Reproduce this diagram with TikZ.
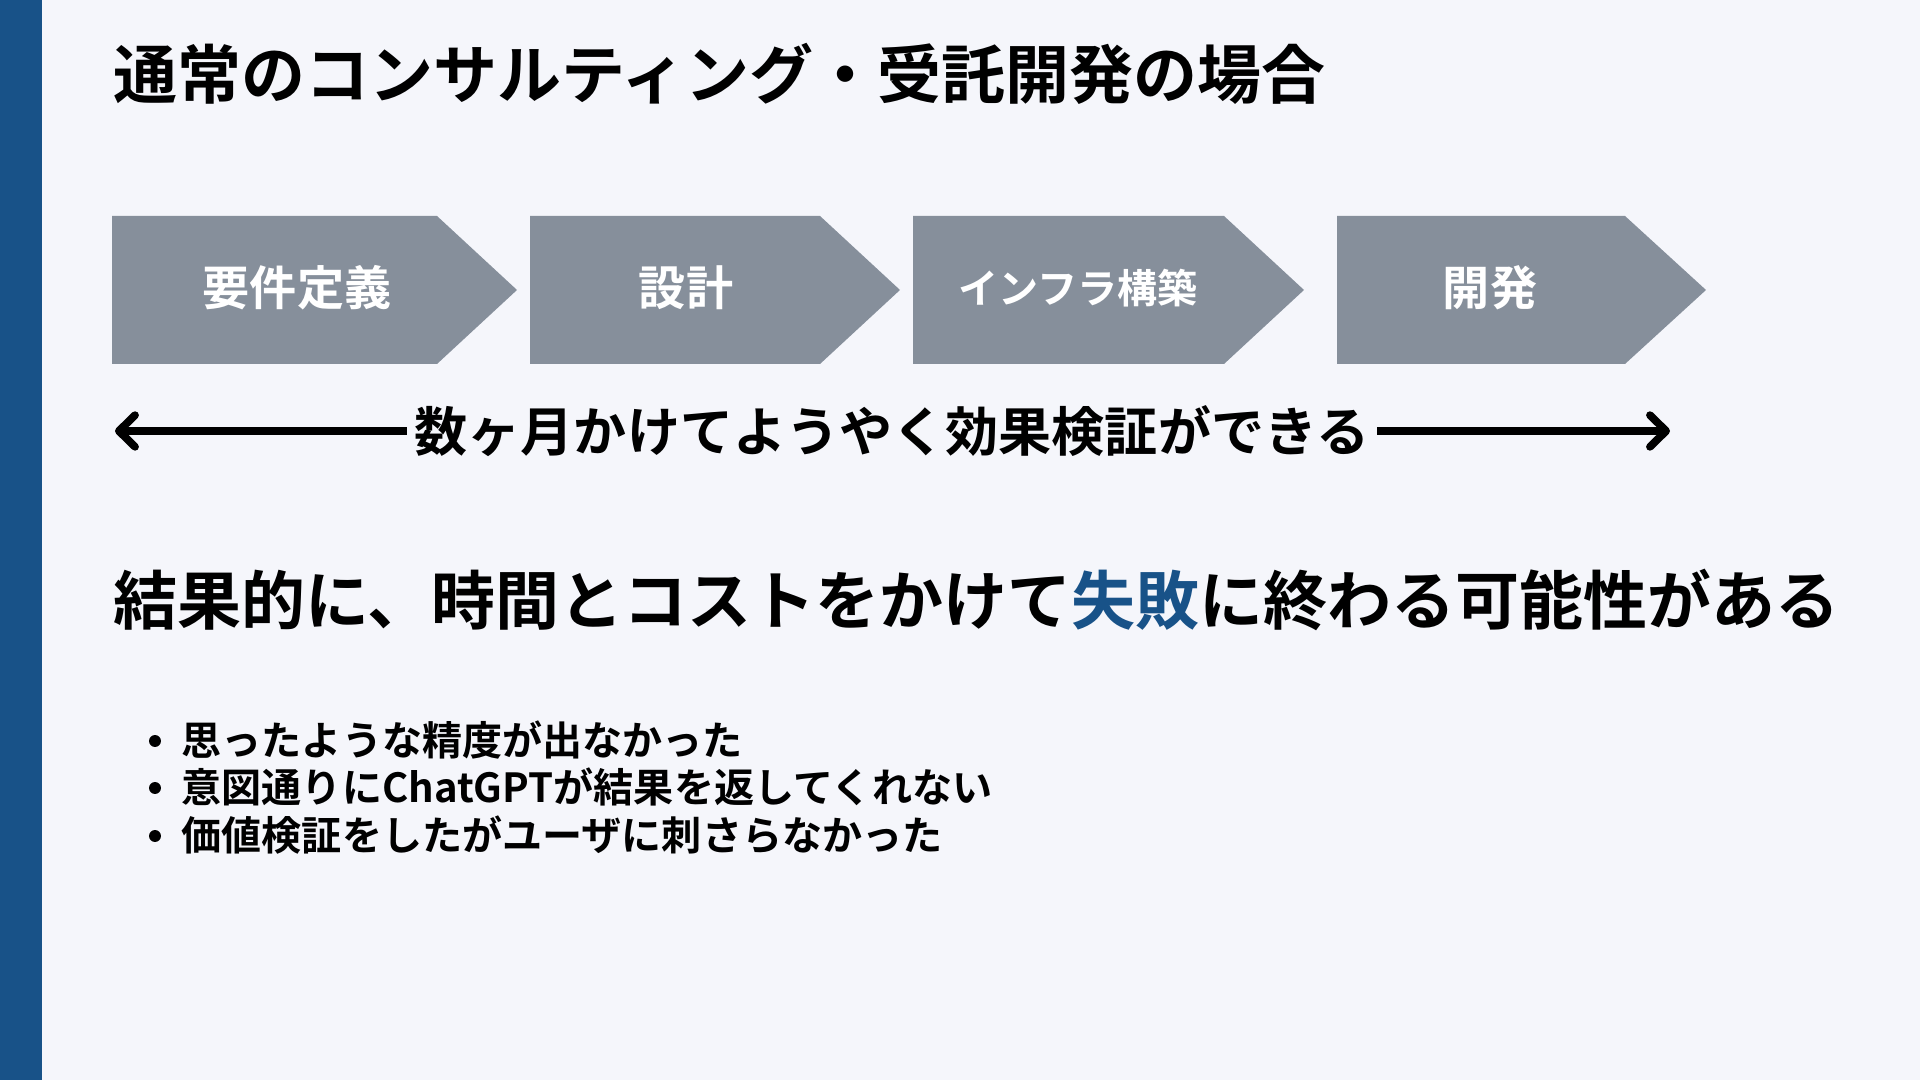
\documentclass[tikz,border=0pt]{standalone}
\usepackage{fontspec}
\setmainfont{Noto Sans CJK JP}[BoldFont={Noto Sans CJK JP Bold}]
\usetikzlibrary{arrows.meta}
\definecolor{bgc}{RGB}{245,246,251}
\definecolor{barc}{RGB}{24,82,136}
\definecolor{chevc}{RGB}{134,143,155}
\definecolor{bluec}{RGB}{24,82,136}
\tikzset{
  chev/.style={fill=chevc},
  chevtext/.style={text=white,font=\bfseries\fontsize{13.4pt}{16pt}\selectfont,inner sep=0pt},
  title/.style={anchor=west,inner sep=0pt,font=\bfseries\fontsize{18.2pt}{22pt}\selectfont},
  span/.style={inner sep=0pt,font=\bfseries\fontsize{15.1pt}{18pt}\selectfont},
  spanline/.style={line width=2.2pt,-{Straight Barb[length=4.6pt,width=9pt,round]}},
  item/.style={anchor=west,inner sep=0pt,font=\bfseries\fontsize{11.4pt}{14pt}\selectfont},
  dot/.style={fill=black},
}
\begin{document}
\begin{tikzpicture}[x=0.01cm,y=-0.01cm]
\fill[bgc] (0,0) rectangle (1920,1080);
\useasboundingbox (0,0) rectangle (1920,1080);
\fill[barc] (0,0) rectangle (42,1080);
\node[title] (t) at (113,74) {通常のコンサルティング・受託開発の場合};
% chevrons
\fill[chev] (112,216) -- (437,216) -- (517,290) -- (437,364) -- (112,364) -- cycle;
\fill[chev] (530,216) -- (820,216) -- (900,290) -- (820,364) -- (530,364) -- cycle;
\fill[chev] (913,216) -- (1224,216) -- (1304,290) -- (1224,364) -- (913,364) -- cycle;
\fill[chev] (1337,216) -- (1625,216) -- (1706,290) -- (1625,364) -- (1337,364) -- cycle;
\node[chevtext] (c1) at (297,288) {要件定義};
\node[chevtext] (c2) at (686,288) {設計};
\node[chevtext,font=\bfseries\fontsize{11.4pt}{14pt}\selectfont] (c3) at (1078,288) {インフラ構築};
\node[chevtext] (c4) at (1490,288) {開発};
% span arrow
\node[span] (sp) at (892,431) {数ヶ月かけてようやく効果検証ができる};
\coordinate (la) at (115,431);
\coordinate (ra) at (1670,431);
\draw[spanline] ([xshift=-2pt]sp.west |- la) -- (la);
\draw[spanline] ([xshift=2pt]sp.east |- ra) -- (ra);
% big sentence
\node[title] (m) at (113,600) {結果的に、時間とコストをかけて\textcolor{bluec}{失敗}に終わる可能性がある};
% bullets
\fill[dot] (155,741) circle[radius=1.7pt];
\fill[dot] (155,788) circle[radius=1.7pt];
\fill[dot] (155,836) circle[radius=1.7pt];
\node[item] (b1) at (181,740) {思ったような精度が出なかった};
\node[item] (b2) at (181,787) {意図通りにChatGPTが結果を返してくれない};
\node[item] (b3) at (181,835) {価値検証をしたがユーザに刺さらなかった};
\end{tikzpicture}
\end{document}
